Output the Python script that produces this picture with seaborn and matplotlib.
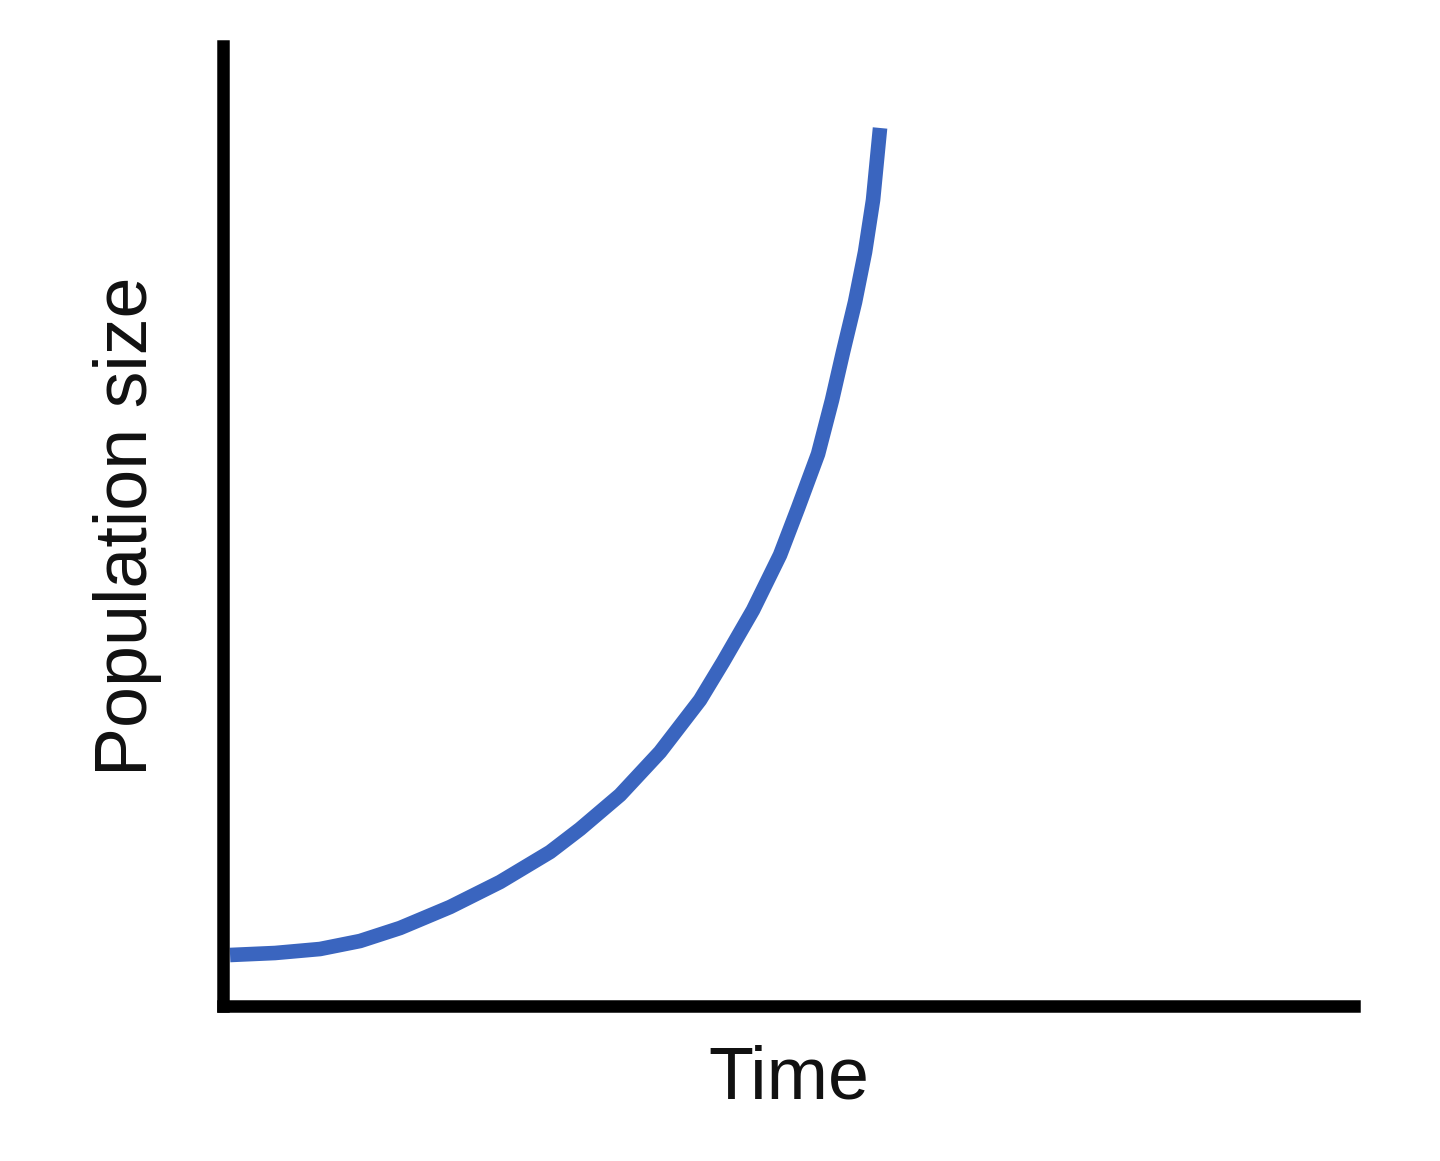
import matplotlib
matplotlib.use('Agg')
import matplotlib.pyplot as plt
import seaborn as sns
import pandas as pd

# values (arbitrary units)
time = [0.07, 0.52, 0.97, 1.37, 1.77, 2.27, 2.77, 3.27, 3.57, 3.97,
        4.37, 4.77, 5.00, 5.30, 5.57, 5.75, 5.95, 6.09, 6.20, 6.32,
        6.42, 6.50, 6.57]
population = [0.51, 0.53, 0.57, 0.65, 0.78, 0.99, 1.24, 1.54, 1.77, 2.11,
              2.54, 3.06, 3.44, 3.96, 4.51, 4.98, 5.52, 6.06, 6.54, 7.04,
              7.54, 8.06, 8.78]

x_label = 'Time'
y_label = 'Population size'

sns.set_style('white')
plt.rcParams['font.family'] = ['Liberation Sans', 'DejaVu Sans']

df = pd.DataFrame({'time': time, 'population': population})

fig = plt.figure(figsize=(14.4, 11.61), dpi=100)
ax = fig.add_axes([0.1549, 0.1335, 0.7854, 0.8269])

sns.lineplot(data=df, x='time', y='population', ax=ax,
             color='#3A65BF', linewidth=10.5,
             solid_capstyle='butt', solid_joinstyle='round')

ax.set_xlim(0, 11.31)
ax.set_ylim(0, 9.6)
ax.set_xticks([])
ax.set_yticks([])
sns.despine(ax=ax)
for side in ['left', 'bottom']:
    ax.spines[side].set_linewidth(9)
    ax.spines[side].set_color('black')

ax.set_xlabel(x_label, fontsize=53, labelpad=28, color='#111111')
ax.set_ylabel(y_label, fontsize=53, labelpad=44, color='#111111')

fig.savefig('out.png', dpi=100)
